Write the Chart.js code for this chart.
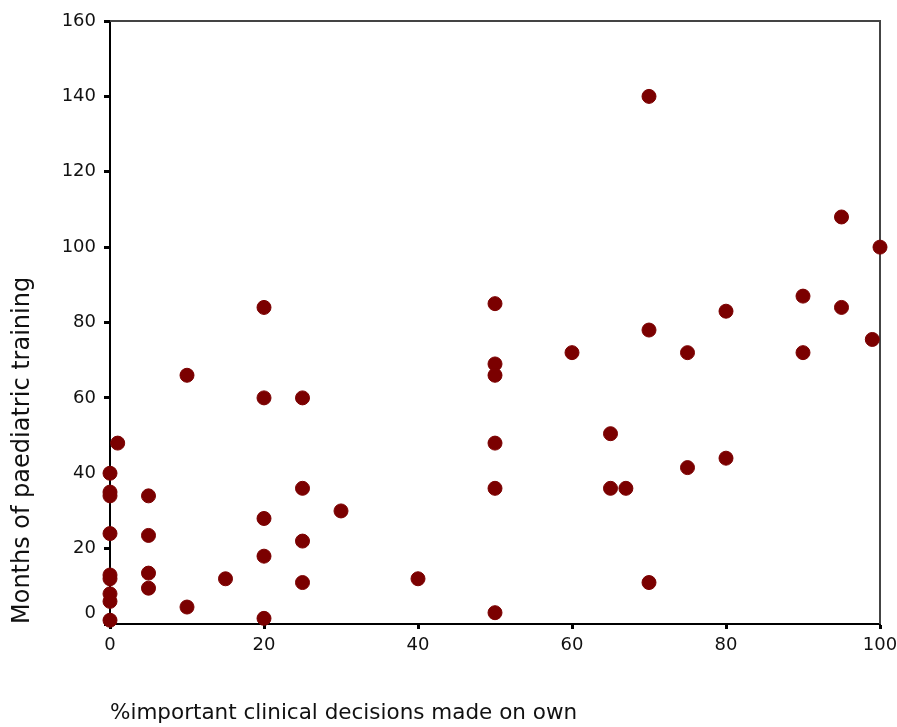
<!DOCTYPE html>
<html>
<head>
<meta charset="utf-8">
<script src="https://cdn.jsdelivr.net/npm/chart.js@4/dist/chart.umd.min.js"></script>
<style>
  body { margin: 0; background: #fff; }
</style>
</head>
<body>
<canvas id="scatterChart" width="897" height="727"></canvas>
<script>
// % decisions made on own vs months of training
const decisionsPct = [0, 0, 0, 0, 0, 0, 0, 0, 0, 1, 5, 5, 5, 5, 10, 10, 15, 20, 20, 20, 20, 20,
  25, 25, 25, 25, 30, 40, 50, 50, 50, 50, 50, 50, 60, 65, 65, 67, 70, 70, 70, 75, 75, 80, 80,
  90, 90, 95, 95, 99, 100];
const trainingMonths = [40, 35, 34, 24, 13, 12, 8, 6, 1, 48, 34, 23.5, 13.5, 9.5, 66, 4.5, 12, 84, 60, 28, 18, 1.5,
  60, 36, 22, 11, 30, 12, 85, 69, 66, 48, 36, 3, 72, 50.5, 36, 36, 140, 78, 11, 72, 41.5, 83, 44,
  87, 72, 108, 84, 75.5, 100];
const xTicks = [0, 20, 40, 60, 80, 100];
const yTicks = [0, 20, 40, 60, 80, 100, 120, 140, 160];

const points = decisionsPct.map((x, i) => ({ x: x, y: trainingMonths[i] }));

// top and right edges of the frame
const framePlugin = {
  id: 'frame',
  beforeDatasetsDraw(chart) {
    const { ctx, chartArea } = chart;
    ctx.save();
    ctx.strokeStyle = '#444';
    ctx.lineWidth = 2;
    ctx.beginPath();
    ctx.moveTo(chartArea.left, chartArea.top);
    ctx.lineTo(chartArea.right, chartArea.top);
    ctx.lineTo(chartArea.right, chartArea.bottom);
    ctx.stroke();
    ctx.restore();
  }
};

const tickFont = { family: 'DejaVu Sans', size: 18 };

new Chart(document.getElementById('scatterChart'), {
  type: 'scatter',
  data: {
    datasets: [{
      data: points,
      backgroundColor: '#7b0000',
      borderColor: '#7b0000',
      pointRadius: 7,
      pointHoverRadius: 7,
      clip: false
    }]
  },
  options: {
    responsive: false,
    animation: false,
    layout: { padding: { top: 21, right: 17, bottom: 0, left: 0 } },
    plugins: { legend: { display: false }, tooltip: { enabled: false } },
    scales: {
      x: {
        type: 'linear',
        min: 0,
        max: 100,
        afterBuildTicks: s => { s.ticks = xTicks.map(v => ({ value: v })); },
        afterFit: s => { s.height = 103; s.paddingLeft = 0; s.paddingRight = 0; },
        grid: { drawOnChartArea: false, color: '#000', tickLength: 5, tickWidth: 3 },
        border: { color: '#000', width: 2 },
        ticks: { color: '#111', font: tickFont, padding: 6, maxRotation: 0 },
        title: {
          display: true,
          text: '%important clinical decisions made on own',
          align: 'start',
          color: '#111',
          font: { family: 'DejaVu Sans', size: 21.5 },
          padding: { top: 0, bottom: 1 }
        }
      },
      y: {
        type: 'linear',
        min: 0,
        max: 160,
        afterBuildTicks: s => { s.ticks = yTicks.map(v => ({ value: v })); },
        afterFit: s => { s.width = 110; },
        grid: { drawOnChartArea: false, color: '#000', tickLength: 6, tickWidth: 3 },
        border: { color: '#000', width: 2 },
        ticks: {
          color: '#111',
          font: tickFont,
          padding: 8,
          callback: v => (v === 0 ? ['0', ''] : String(v))
        },
        title: {
          display: true,
          text: 'Months of paediatric training',
          align: 'start',
          color: '#111',
          font: { family: 'DejaVu Sans', size: 24 },
          padding: { top: 8, bottom: 0 }
        }
      }
    }
  },
  plugins: [framePlugin]
});
</script>
</body>
</html>
